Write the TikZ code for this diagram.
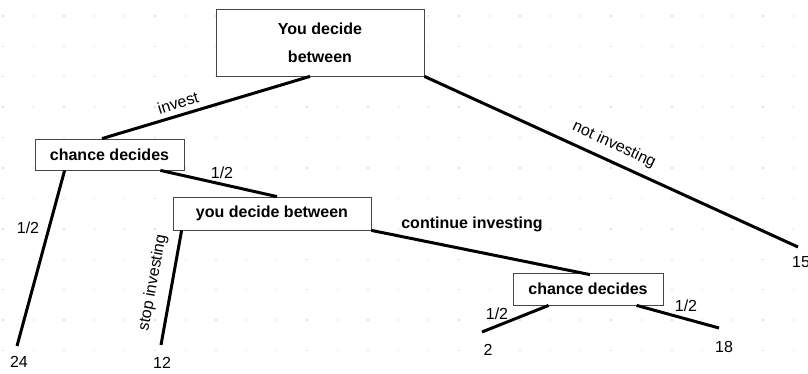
\documentclass[tikz,border=0pt]{standalone}
\usepackage{fontspec}
\setmainfont{Liberation Sans}
\begin{document}
\begin{tikzpicture}[x=1pt,y=-1pt,
  box/.style={draw=gray!55!black, line width=0.8pt, fill=white, inner sep=0pt, align=center,
    font=\bfseries\fontsize{16}{28}\selectfont},
  edge/.style={line width=3pt},
  lbl/.style={font=\fontsize{16}{19}\selectfont, inner sep=0pt},
  blbl/.style={font=\bfseries\fontsize{16}{19}\selectfont, inner sep=0pt},
  griddot/.style={fill=gray!25}]
\useasboundingbox[fill=white] (0,0) rectangle (808,374);
% faint dot grid
\foreach \i in {0,...,26}{
  \foreach \j in {0,...,11}{
    \fill[griddot] ({3+30.4*\i-0.7},{16+30.4*\j-0.7}) rectangle ++(1.4,1.4);
  }
}
% boxes
\node[box, minimum width=208pt, minimum height=67pt] (top) at (320,42.5) {You decide\\between};
\node[box, minimum width=149pt, minimum height=31pt] (cd1) at (109.5,154.5) {chance decides};
\node[box, minimum width=198pt, minimum height=33pt] (ydb) at (272,213.5) {you decide between};
\node[box, minimum width=150pt, minimum height=32pt] (cd2) at (588,289) {chance decides};
% leaf end points
\coordinate (e15) at (798,247);
\coordinate (e24) at (17,346);
\coordinate (e12) at (161,345);
\coordinate (e2) at (482,332);
\coordinate (e18) at (719,328);
% leaf values
\node[lbl, anchor=west] (v15) at (792,262) {15};
\node[lbl] (v24) at (19,362) {24};
\node[lbl] (v12) at (162,363) {12};
\node[lbl] (v2) at (488,350) {2};
\node[lbl] (v18) at (724,347) {18};
% connectors
\draw[edge] ([xshift=-10pt]top.south) -- ([xshift=-7.5pt]cd1.north);
\draw[edge] (top.south east) -- (e15);
\draw[edge] ([xshift=30pt]cd1.south west) -- (e24);
\draw[edge] ([xshift=-24pt]cd1.south east) -- ([xshift=5pt]ydb.north);
\draw[edge] ([xshift=9pt]ydb.south west) -- (e12);
\draw[edge] (ydb.south east) -- ([xshift=2pt,yshift=-2pt]cd2.north);
\draw[edge] ([xshift=36pt]cd2.south west) -- (e2);
\draw[edge] ([xshift=124pt]cd2.south west) -- (e18);
% edge labels
\node[lbl, rotate=17] (linvest) at (178,103) {invest};
\node[lbl, rotate=-25] (lnot) at (614,145) {not investing};
\node[lbl] (lh1) at (28,228) {1/2};
\node[lbl] (lh2) at (222,173) {1/2};
\node[lbl, rotate=79.6] (lstop) at (153,283) {stop investing};
\node[blbl] (lcont) at (472,224) {continue investing};
\node[lbl] (lh3) at (497,314) {1/2};
\node[lbl] (lh4) at (686,306) {1/2};
\end{tikzpicture}
\end{document}
